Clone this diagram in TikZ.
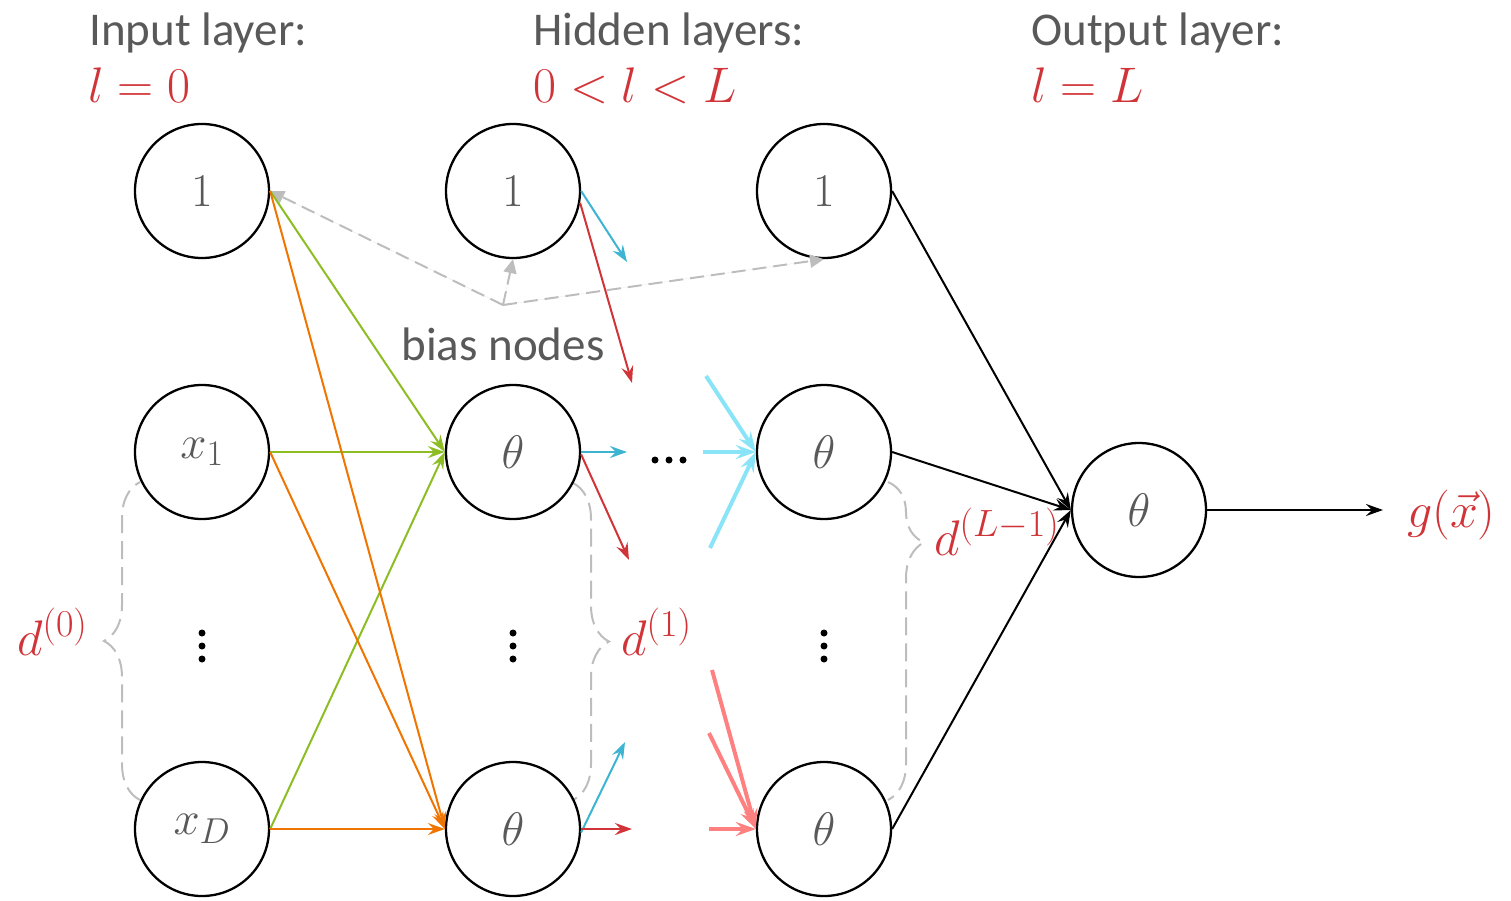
\RequirePackage{fix-cm}
\documentclass[tikz,border=0pt]{standalone}
\usepackage[no-math]{fontspec}
\setmainfont{Carlito}
\usetikzlibrary{arrows.meta,decorations.pathreplacing}
\DeclareMathSizes{50}{50}{38}{30}
\DeclareMathSizes{47}{47}{36}{28}
\definecolor{txtgray}{HTML}{595959}
\definecolor{lblred}{HTML}{D13438}
\definecolor{ngreen}{HTML}{8CBE23}
\definecolor{norange}{HTML}{F07400}
\definecolor{ncyan}{HTML}{3CB4D2}
\definecolor{lcyan}{HTML}{8AE4F8}
\definecolor{lred}{HTML}{FF8080}
\definecolor{dgray}{HTML}{BDBDBD}
\tikzset{
  neuron/.style={circle,draw=black,line width=2.3pt,fill=white,minimum size=134pt,inner sep=0pt,
    font=\fontsize{47}{50}\selectfont,text=txtgray},
  title/.style={anchor=base west,font=\fontsize{47}{50}\selectfont,text=txtgray,inner sep=0pt},
  mlabel/.style={font=\fontsize{50}{54}\selectfont,text=lblred,inner sep=0pt},
  conn/.style={line width=2pt,-{Stealth[length=17pt,width=12pt,inset=6pt]}},
  thick conn/.style={line width=4pt,-{Stealth[length=20pt,width=14pt,inset=7pt]}},
  dashconn/.style={line width=2pt,draw=dgray,dash pattern=on 14pt off 7pt,-{Triangle[length=14pt,width=13pt]},fill=dgray},
  bracedash/.style={draw=dgray,line width=2pt,dash pattern=on 18pt off 8pt,
    decorate,decoration={brace,amplitude=36pt}},
  dotmark/.style={circle,fill=black,inner sep=0pt,minimum size=7pt}
}
\begin{document}
\begin{tikzpicture}[x=1pt,y=-1pt]
\useasboundingbox (0,0) rectangle (1511,900);

% titles
\node[title] (t1) at (89,45) {Input layer:};
\node[title] (t2) at (533,45) {Hidden layers:};
\node[title] (t3) at (1031,45) {Output layer:};
\node[mlabel,anchor=base west] (m1) at (88,102) {$l=0$};
\node[mlabel,anchor=base west] (m2) at (533,102) {$0<l<L$};
\node[mlabel,anchor=base west] (m3) at (1031,102) {$l=L$};

% braces (drawn before the circles)
\draw[bracedash] (140,800) -- (140,482);
\draw[bracedash] (573,483) -- (573,800);
\draw[bracedash,decoration={brace,amplitude=36pt,aspect=0.19}] (888,482) -- (888,800);

\node[mlabel,anchor=base west] (d0) at (17,655) {$d^{(0)}$};
\node[mlabel,anchor=base west] (d1) at (621,655) {$d^{(1)}$};
\node[mlabel,anchor=base west] (dL) at (934,555) {$d^{(L-1)}$};

% dashed bias arrows
\coordinate (bn) at (503,305);
\node[font=\fontsize{47}{50}\selectfont,text=txtgray,inner sep=0pt,anchor=base] (biaslbl) at (503,360) {bias nodes};

% nodes
\node[neuron] (b1) at (202,191) {$1$};
\node[neuron] (x1) at (202,452) {$x_1$};
\node[neuron] (xD) at (202,829) {$x_D$};
\node[neuron] (b2) at (513,191) {$1$};
\node[neuron] (h1) at (513,452) {$\theta$};
\node[neuron] (h2) at (513,829) {$\theta$};
\node[neuron] (b3) at (824,191) {$1$};
\node[neuron] (h3) at (824,452) {$\theta$};
\node[neuron] (h4) at (824,829) {$\theta$};
\node[neuron] (out) at (1139,510) {$\theta$};

\draw[dashconn] (bn) -- (b1.east);
\draw[dashconn] (bn) -- (b2.south);
\draw[dashconn] (bn) -- (b3.south);

% vertical dots
\foreach \cx/\nm in {202/a,513/b,824/c}{
  \node[dotmark] (v\nm1) at (\cx,633) {};
  \node[dotmark] (v\nm2) at (\cx,646) {};
  \node[dotmark] (v\nm3) at (\cx,659) {};
}
% horizontal dots
\node[dotmark] (hd1) at (655,460) {};
\node[dotmark] (hd2) at (669,460) {};
\node[dotmark] (hd3) at (683,460) {};

% input to first hidden
\draw[conn,ngreen] (b1.east) -- (h1.west);
\draw[conn,ngreen] (x1.east) -- (h1.west);
\draw[conn,ngreen] (xD.east) -- (h1.west);
\draw[conn,norange] (b1.east) -- (h2.west);
\draw[conn,norange] (x1.east) -- (h2.west);
\draw[conn,norange] (xD.east) -- (h2.west);

% outgoing stubs from first hidden layer
\coordinate (c1) at (627,262);
\coordinate (r1) at (632,383);
\coordinate (c2) at (627,452);
\coordinate (r2) at (629,560);
\coordinate (c3) at (625,742);
\coordinate (r3) at (632,829);
\draw[conn,ncyan] (b2.east) -- (c1);
\draw[conn,lblred] (b2.-10) -- (r1);
\draw[conn,ncyan] (h1.east) -- (c2);
\draw[conn,lblred] (h1.-2) -- (r2);
\draw[conn,ncyan] (h2.-3) -- (c3);
\draw[conn,lblred] (h2.east) -- (r3);

% incoming stubs to last hidden layer
\coordinate (lc1) at (706,376);
\coordinate (lc2) at (703,452);
\coordinate (lc3) at (710,548);
\coordinate (lr1) at (712,670);
\coordinate (lr2) at (709,733);
\coordinate (lr3) at (709,829);
\draw[thick conn,lcyan] (lc1) -- (h3.west);
\draw[thick conn,lcyan] (lc2) -- (h3.west);
\draw[thick conn,lcyan] (lc3) -- (h3.west);
\draw[thick conn,lred] (lr1) -- (h4.west);
\draw[thick conn,lred] (lr2) -- (h4.west);
\draw[thick conn,lred] (lr3) -- (h4.west);

% to output
\draw[conn,black] (b3.east) -- (out.west);
\draw[conn,black] (h3.east) -- (out.west);
\draw[conn,black] (h4.east) -- (out.west);
\coordinate (gend) at (1383,510);
\draw[conn,black] (out.east) -- (gend);
\node[mlabel,anchor=base west] (g) at (1407,527) {$g(\vec{x})$};
\end{tikzpicture}
\end{document}
